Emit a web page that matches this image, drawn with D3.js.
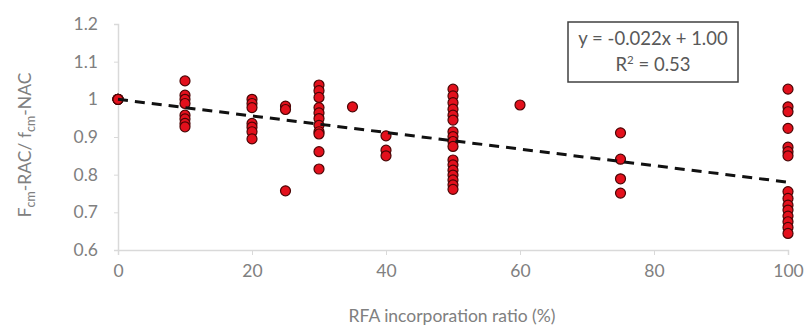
<!DOCTYPE html>
<html>
<head>
<meta charset="utf-8">
<script src="https://cdn.jsdelivr.net/npm/d3@7"></script>
<style>
  html, body { margin: 0; padding: 0; background: #fff; }
  svg { display: block; }
  text { font-family: Lato, "Open Sans", sans-serif; }
</style>
</head>
<body>
<svg id="chart" width="806" height="326"></svg>
<script>
// RFA replacement levels (%) and the measured strength ratios at each level
const rfaLevels = [0, 10, 20, 25, 30, 35, 40, 50, 60, 75, 100];
const strengthRatios = [
  [1.0, 1.0, 1.0, 1.0, 1.0],
  [1.049, 1.011, 1.0, 0.989, 0.958, 0.948, 0.936, 0.927],
  [1.0, 0.989, 0.978, 0.936, 0.926, 0.914, 0.895],
  [0.982, 0.973, 0.757],
  [1.038, 1.023, 1.005, 0.978, 0.964, 0.949, 0.931, 0.914, 0.908, 0.861, 0.815],
  [0.98],
  [0.903, 0.865, 0.85],
  [1.027, 1.009, 0.991, 0.974, 0.958, 0.945, 0.914, 0.901, 0.888, 0.875, 0.839, 0.826, 0.812, 0.799, 0.786, 0.773, 0.761],
  [0.985],
  [0.911, 0.841, 0.789, 0.751],
  [1.027, 0.98, 0.967, 0.923, 0.873, 0.861, 0.85, 0.755, 0.737, 0.719, 0.706, 0.69, 0.675, 0.66, 0.644]
];

// Axis ticks
const xTicks = [0, 20, 40, 60, 80, 100];
const yTicks = [0.6, 0.7, 0.8, 0.9, 1.0, 1.1, 1.2];
const yTickLabels = ["0.6", "0.7", "0.8", "0.9", "1", "1.1", "1.2"];

// Linear trend: y = slope * (x / 10) + intercept, x in %
const trendSlope = -0.022;
const trendIntercept = 1.00;
const trendR2 = 0.53;

const points = rfaLevels.flatMap((lvl, i) => strengthRatios[i].map(v => ({ x: lvl, y: v })));

const svg = d3.select("#chart");
const x = d3.scaleLinear().domain([0, 100]).range([118, 788]);
const y = d3.scaleLinear().domain([0.6, 1.2]).range([250, 24]);

const axisColor = "#d9d9d9";
const labelColor = "#808080";

// Axes
const xAxis = svg.append("g").attr("transform", `translate(0,${y(0.6)})`)
  .call(d3.axisBottom(x).tickValues(xTicks).tickSize(5).tickPadding(10).tickFormat(d3.format("d")));
const yAxis = svg.append("g").attr("transform", `translate(${x(0)},0)`)
  .call(d3.axisLeft(y).tickValues(yTicks).tickSize(4).tickPadding(16)
    .tickFormat((d, i) => yTickLabels[i]));

[xAxis, yAxis].forEach(g => {
  g.select(".domain").attr("stroke", axisColor).attr("stroke-width", 1.5);
  g.selectAll(".tick line").attr("stroke", axisColor).attr("stroke-width", 1);
  g.selectAll(".tick text").attr("fill", labelColor).attr("font-size", 17.5)
    .attr("font-family", "Lato, sans-serif");
});

// Axis titles
svg.append("text")
  .attr("x", (x(0) + x(100)) / 2 - 1).attr("y", 322)
  .attr("text-anchor", "middle").attr("fill", labelColor).attr("font-size", 17.5)
  .text("RFA incorporation ratio (%)");

const yTitle = svg.append("text")
  .attr("transform", `translate(31,${(y(0.6) + y(1.2)) / 2 + 8}) rotate(-90)`)
  .attr("text-anchor", "middle").attr("fill", labelColor).attr("font-size", 17.5);
yTitle.append("tspan").text("F");
yTitle.append("tspan").attr("font-size", 12.5).attr("dy", 4).text("cm");
yTitle.append("tspan").attr("dy", -4).text("-RAC/ f");
yTitle.append("tspan").attr("font-size", 12.5).attr("dy", 4).text("cm");
yTitle.append("tspan").attr("dy", -4).text("-NAC");

// Data markers
svg.append("g").selectAll("circle").data(points).join("circle")
  .attr("cx", d => x(d.x)).attr("cy", d => y(d.y)).attr("r", 5)
  .attr("fill", "#e3101c").attr("stroke", "#4a0505").attr("stroke-width", 1.2);

// Dashed trend line
const trend = d3.line().x(d => x(d)).y(d => y(trendIntercept + trendSlope * d / 10));
svg.append("path").datum([0, 100]).attr("d", trend)
  .attr("fill", "none").attr("stroke", "#111").attr("stroke-width", 3)
  .attr("stroke-dasharray", "10,7");

// Equation box
const box = svg.append("g");
box.append("rect").attr("x", 568).attr("y", 22).attr("width", 170).attr("height", 60)
  .attr("fill", "#fff").attr("stroke", "#404040").attr("stroke-width", 1.5);
box.append("text").attr("x", 653).attr("y", 45).attr("text-anchor", "middle")
  .attr("fill", "#595959").attr("font-size", 18.5)
  .text(`y = ${trendSlope.toFixed(3)}x + ${trendIntercept.toFixed(2)}`);
const r2 = box.append("text").attr("x", 653).attr("y", 71).attr("text-anchor", "middle")
  .attr("fill", "#595959").attr("font-size", 18.5);
r2.append("tspan").text("R");
r2.append("tspan").attr("font-size", 11.5).attr("dy", -7).text("2");
r2.append("tspan").attr("dy", 7).text(` = ${trendR2.toFixed(2)}`);
</script>
</body>
</html>
